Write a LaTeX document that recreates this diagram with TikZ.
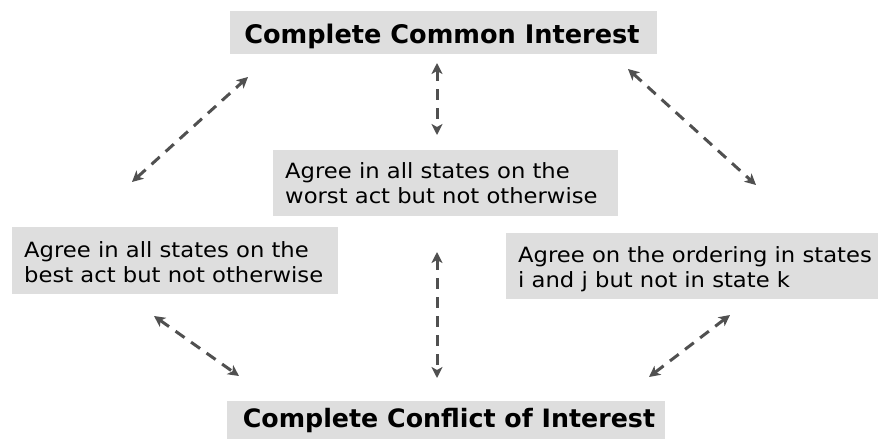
\documentclass[tikz,border=0pt]{standalone}
\usepackage{fontspec}
\setmainfont{DejaVu Sans}
\newfontfamily\bodyfont[FakeStretch=1.08]{DejaVu Sans}
\usetikzlibrary{arrows.meta}
\definecolor{boxgray}{HTML}{DEDEDE}
\definecolor{arrgray}{HTML}{505050}
\tikzset{
  x=1pt,y=-1pt,
  titletext/.style={anchor=base, inner sep=0pt},
  bodytext/.style={anchor=base west, align=left, inner sep=0pt,
     font=\bodyfont\fontsize{21}{25}\selectfont},
  dbl/.style={draw=arrgray, line width=3pt, dash pattern=on 11pt off 8pt,
     {Stealth[length=11pt,width=11pt,inset=3pt]}-{Stealth[length=11pt,width=11pt,inset=3pt]}}
}
\begin{document}
\begin{tikzpicture}
\useasboundingbox (0,0) rectangle (878,439);
% boxes
\fill[boxgray] (230,11) rectangle (657,54);
\node[titletext, font=\fontsize{25.6}{31}\selectfont\bfseries] (cci) at (442,43) {Complete Common Interest};
\fill[boxgray] (227,401) rectangle (665,439);
\node[titletext, font=\fontsize{25.3}{31}\selectfont\bfseries] (cfi) at (449,427) {Complete Conflict of Interest};
\fill[boxgray] (273,150) rectangle (618,216);
\node[bodytext] (worst) at (285,203) {Agree in all states on the\\worst act but not otherwise};
\fill[boxgray] (12,227) rectangle (338,294);
\node[bodytext] (best) at (24,282) {Agree in all states on the\\best act but not otherwise};
\fill[boxgray] (506,233) rectangle (878,299);
\node[bodytext] (order) at (518,287) {Agree on the ordering in states\\i and j but not in state k};
% arrow end points
\coordinate (a1s) at (132,182); \coordinate (a1e) at (248,77);
\coordinate (a2s) at (437,63);  \coordinate (a2e) at (437,135);
\coordinate (a3s) at (628,69);  \coordinate (a3e) at (756,185);
\coordinate (a4s) at (437,252); \coordinate (a4e) at (437,378);
\coordinate (a5s) at (154,316); \coordinate (a5e) at (239,376);
\coordinate (a6s) at (649,377); \coordinate (a6e) at (730,315);
\draw[dbl] (a1s) -- (a1e);
\draw[dbl] (a2s) -- (a2e);
\draw[dbl] (a3s) -- (a3e);
\draw[dbl] (a4s) -- (a4e);
\draw[dbl] (a5s) -- (a5e);
\draw[dbl] (a6s) -- (a6e);
\end{tikzpicture}
\end{document}
